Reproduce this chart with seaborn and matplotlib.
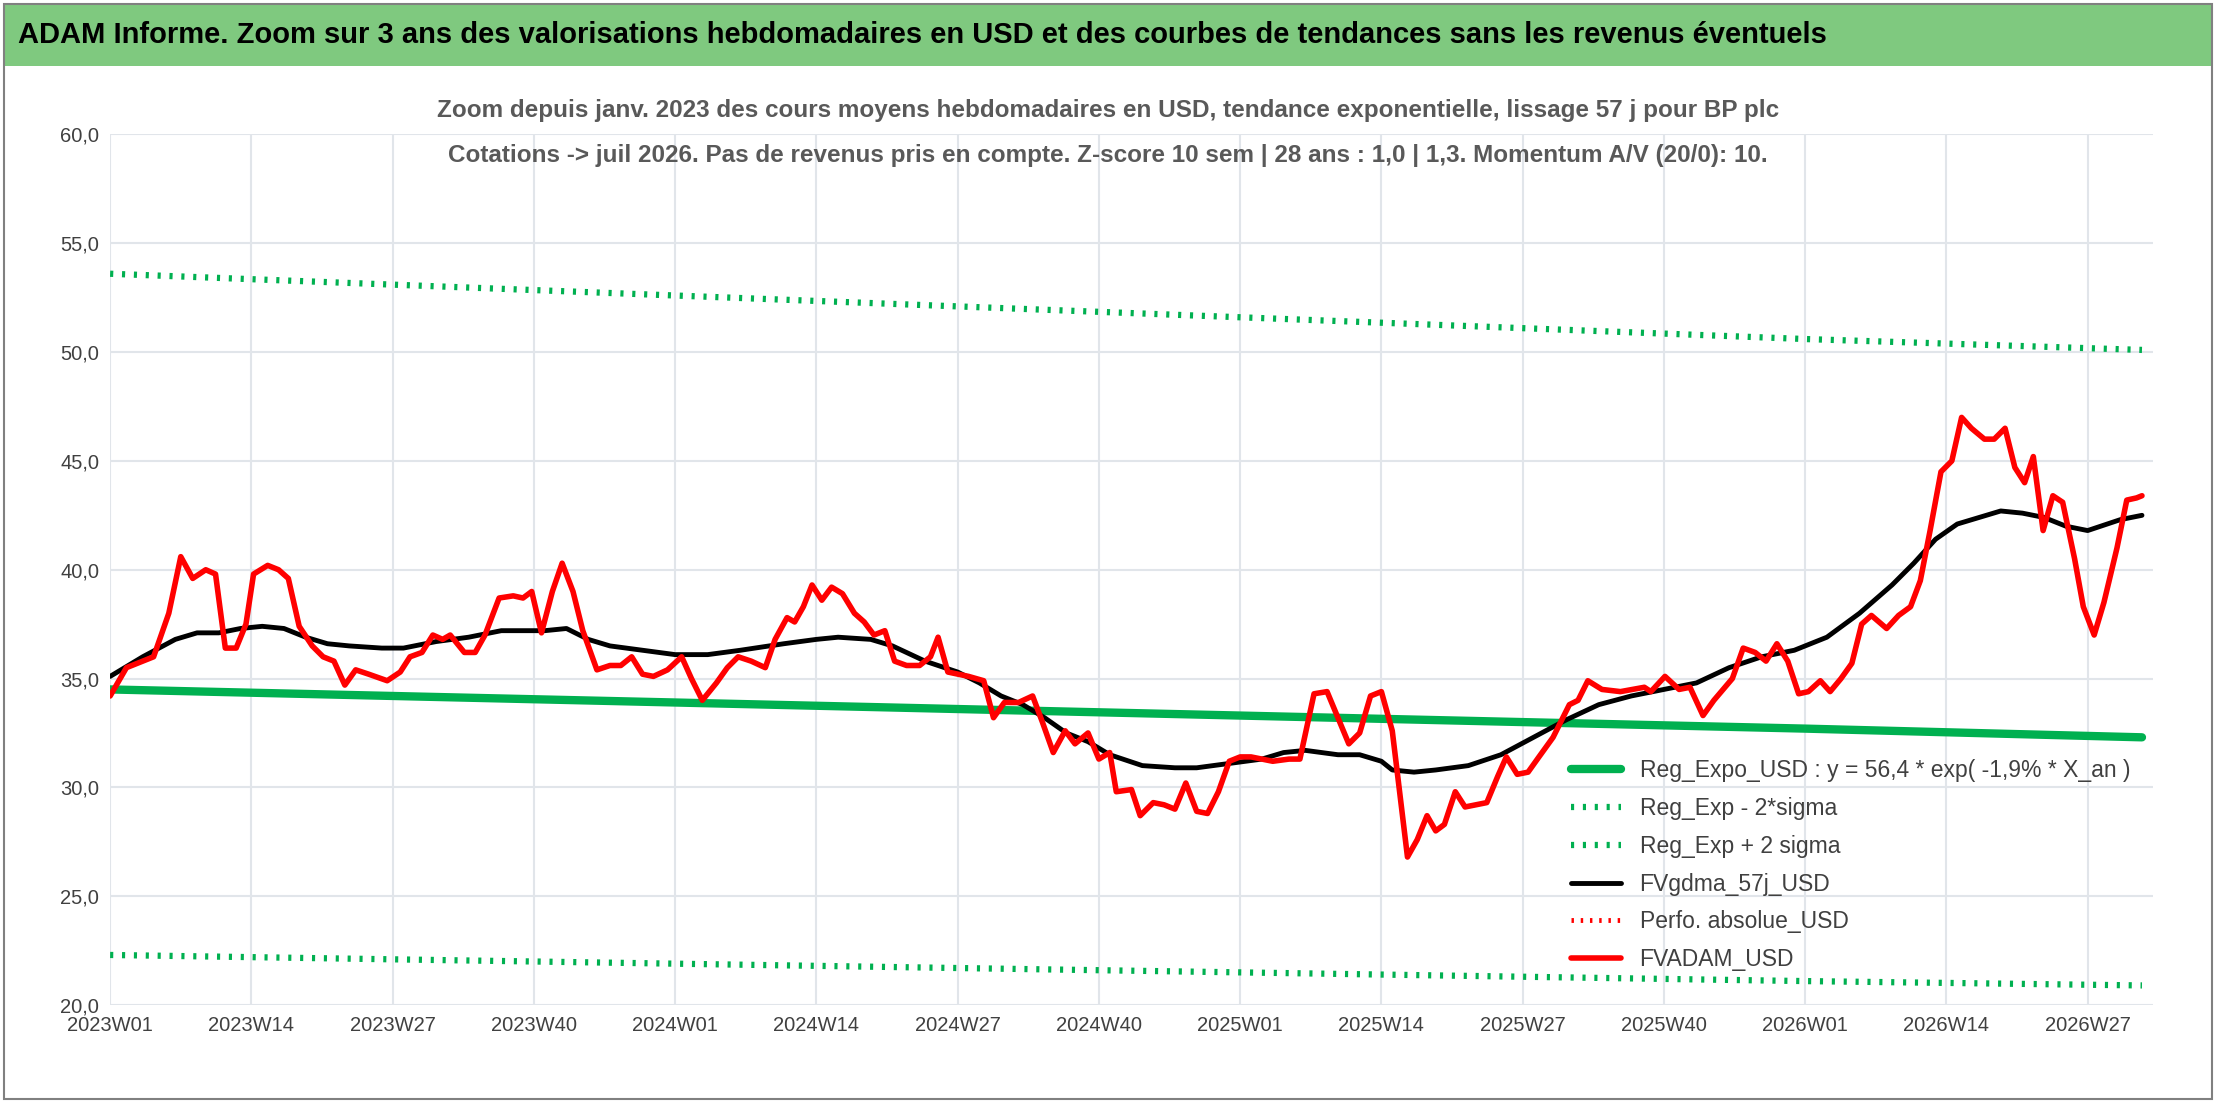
import matplotlib
matplotlib.use("Agg")
import matplotlib.pyplot as plt
import seaborn as sns

# weeks since 2023W01
red_x = [0, 1.5, 3, 4, 5.4, 6.5, 7.6, 8.8, 9.7, 10.6, 11.6, 12.5, 13.2, 14.5, 15.5, 16.4, 17.4,
         18.6, 19.6, 20.6, 21.6, 22.6, 23.8, 25.5, 26.7, 27.6, 28.7, 29.7, 30.6, 31.3, 32.6, 33.6,
         34.5, 35.8, 37.1, 38, 38.8, 39.7, 40.7, 41.6, 42.6, 43.5, 44.8, 46, 47, 48, 49, 50, 51.3,
         52.6, 53.5, 54.5, 55.8, 56.8, 57.8, 59, 60.3, 61.2, 62.3, 63, 63.8, 64.6, 65.5, 66.4, 67.4,
         68.5, 69.4, 70.3, 71.3, 72.2, 73.3, 74.5, 75.5, 76.2, 77.1, 79, 80.4, 81.3, 82.3, 83.6,
         84.9, 85.8, 86.8, 87.9, 88.8, 90, 91, 92, 92.6, 94, 94.8, 96, 97, 98, 99, 100, 101, 102,
         103, 104, 105, 106, 107, 108.5, 109.5, 110.8, 112, 113, 114, 115, 116, 117, 118, 119.4, 120.3,
         121.2, 122, 122.8, 123.8, 124.7, 125.7, 126.7, 127.7, 128.5, 129.5, 130.5, 131.5, 132.8,
         134.3, 135.1, 136, 137.3, 139, 141.2, 141.8, 143.1, 144.4, 145.4, 146.6, 147.6, 149.3,
         150.3, 151.4, 152.4, 153.4, 154.4, 155.4, 156.3, 157.4, 158.3, 159.3, 160.3, 161.2, 162.1,
         163.5, 164.6, 165.7, 166.6, 167.5, 168.5, 169.5, 170.4, 171.3, 172.5, 173.4, 174.4, 175.3,
         176.2, 177, 177.9, 178.8, 179.7, 180.8, 181.6, 182.6, 183.5, 184.7, 185.6, 186.5, 187]
red_y = [34.2, 35.5, 35.8, 36.0, 38.0, 40.6, 39.6, 40.0, 39.8, 36.4, 36.4, 37.5, 39.8, 40.2, 40.0,
         39.6, 37.4, 36.5, 36.0, 35.8, 34.7, 35.4, 35.2, 34.9, 35.3, 36.0, 36.2, 37.0, 36.8, 37.0,
         36.2, 36.2, 37.0, 38.7, 38.8, 38.7, 39.0, 37.1, 39.0, 40.3, 39.0, 37.2, 35.4, 35.6, 35.6,
         36.0, 35.2, 35.1, 35.4, 36.0, 35.0, 34.0, 34.8, 35.5, 36.0, 35.8, 35.5, 36.8, 37.8, 37.6,
         38.3, 39.3, 38.6, 39.2, 38.9, 38.0, 37.6, 37.0, 37.2, 35.8, 35.6, 35.6, 36.0, 36.9, 35.3,
         35.1, 34.9, 33.2, 33.9, 33.9, 34.2, 33.0, 31.6, 32.6, 32.0, 32.5, 31.3, 31.6, 29.8, 29.9,
         28.7, 29.3, 29.2, 29.0, 30.2, 28.9, 28.8, 29.8, 31.2, 31.4, 31.4, 31.3, 31.2, 31.3, 31.3,
         34.3, 34.4, 33.2, 32.0, 32.5, 34.2, 34.4, 32.6, 26.8, 27.6, 28.7, 28.0, 28.3, 29.8, 29.1,
         29.2, 29.3, 30.5, 31.4, 30.6, 30.7, 31.4, 32.3, 33.8, 34.0, 34.9, 34.5, 34.4, 34.6, 34.4,
         35.1, 34.5, 34.6, 33.3, 34.0, 35.0, 36.4, 36.2, 35.8, 36.6, 35.8, 34.3, 34.4, 34.9, 34.4,
         35.0, 35.7, 37.5, 37.9, 37.3, 37.9, 38.3, 39.5, 41.8, 44.5, 45.0, 47.0, 46.5, 46.0, 46.0,
         46.5, 44.7, 44.0, 45.2, 41.8, 43.4, 43.1, 40.5, 38.3, 37.0, 38.5, 41.0, 43.2, 43.3, 43.4]

black_x = [0, 3, 6, 8, 10, 12, 14, 16, 18, 20, 22, 25, 27, 30, 33, 36, 40, 42, 44, 46, 49, 52, 55,
           58, 62, 65, 67, 70, 72, 75, 78, 80, 82, 84, 86, 88, 90, 92, 95, 98, 100, 103, 106, 108,
           110, 113, 115, 117, 118, 120, 122, 125, 128, 131, 134, 137, 140, 143, 146, 149, 152,
           155, 158, 161, 164, 166, 168, 170, 172, 174, 176, 178, 180, 182, 185, 187]
black_y = [35.1, 36.0, 36.8, 37.1, 37.1, 37.3, 37.4, 37.3, 36.9, 36.6, 36.5, 36.4, 36.4, 36.7,
           36.9, 37.2, 37.2, 37.3, 36.8, 36.5, 36.3, 36.1, 36.1, 36.3, 36.6, 36.8, 36.9, 36.8,
           36.5, 35.8, 35.3, 34.8, 34.2, 33.8, 33.2, 32.5, 32.1, 31.5, 31.0, 30.9, 30.9, 31.1,
           31.3, 31.6, 31.7, 31.5, 31.5, 31.2, 30.8, 30.7, 30.8, 31.0, 31.5, 32.3, 33.1, 33.8,
           34.2, 34.5, 34.8, 35.5, 36.0, 36.3, 36.9, 38.0, 39.3, 40.3, 41.4, 42.1, 42.4, 42.7,
           42.6, 42.4, 42.0, 41.8, 42.3, 42.5]

trend_x = [0, 26, 52, 78, 104, 130, 156, 187]
trend_y = [34.5, 34.2, 33.9, 33.6, 33.3, 33.0, 32.7, 32.3]
low_y = [22.3, 22.1, 21.9, 21.7, 21.5, 21.3, 21.1, 20.9]
high_y = [53.6, 53.1, 52.6, 52.1, 51.6, 51.1, 50.6, 50.1]

tick_pos = list(range(0, 183, 13))
tick_labels = ["2023W01", "2023W14", "2023W27", "2023W40", "2024W01", "2024W14", "2024W27",
               "2024W40", "2025W01", "2025W14", "2025W27", "2025W40", "2026W01", "2026W14",
               "2026W27"]

sns.set_theme(style="whitegrid")
plt.rcParams['font.family'] = ['Liberation Sans', 'DejaVu Sans']

fig = plt.figure(figsize=(22.16, 11.02), dpi=100)
fig.patch.set_facecolor("white")
fig.patches.append(plt.Rectangle((0.002, 0.94), 0.996, 0.056, transform=fig.transFigure,
                                 facecolor="#7FC97F", edgecolor="none"))
fig.patches.append(plt.Rectangle((0.002, 0.003), 0.996, 0.993, transform=fig.transFigure,
                                 facecolor="none", edgecolor="#808080", lw=1.5))
fig.text(0.008, 0.968, "ADAM Informe. Zoom sur 3 ans des valorisations hebdomadaires en USD et des "
         "courbes de tendances sans les revenus éventuels", fontsize=21, fontweight="bold",
         va="center", ha="left", color="black")
fig.text(0.5, 0.90, "Zoom depuis janv. 2023 des cours moyens hebdomadaires en USD, tendance "
         "exponentielle, lissage 57 j pour BP plc", fontsize=17.5, fontweight="bold",
         color="#595959", ha="center", va="center")
fig.text(0.5, 0.859, "Cotations -> juil 2026. Pas de revenus pris en compte. Z-score 10 sem | "
         "28 ans : 1,0 | 1,3. Momentum A/V (20/0): 10.", fontsize=17.5, fontweight="bold",
         color="#595959", ha="center", va="center")

ax = fig.add_axes([0.0497, 0.088, 0.9218, 0.79])
ax.set_facecolor("none")
dots = (0, (0.5, 1.4))
sns.lineplot(x=trend_x, y=trend_y, ax=ax, color="#00B050", lw=6,
             label="Reg_Expo_USD : y = 56,4 * exp( -1,9% * X_an )")
sns.lineplot(x=trend_x, y=low_y, ax=ax, color="#00B050", lw=4.5, linestyle=dots,
             label="Reg_Exp - 2*sigma")
sns.lineplot(x=trend_x, y=high_y, ax=ax, color="#00B050", lw=4.5, linestyle=dots,
             label="Reg_Exp + 2 sigma")
sns.lineplot(x=black_x, y=black_y, ax=ax, color="black", lw=3.5, label="FVgdma_57j_USD")
ax.plot([], [], color="red", lw=3.5, linestyle=dots, label="Perfo. absolue_USD")
sns.lineplot(x=red_x, y=red_y, ax=ax, color="#FF0000", lw=4, label="FVADAM_USD")

ax.set_xlim(0, 188)
ax.set_ylim(20, 60)
ax.set_xticks(tick_pos)
ax.set_xticklabels(tick_labels)
ax.set_yticks(range(20, 61, 5))
ax.set_yticklabels([f"{v},0" for v in range(20, 61, 5)])
ax.tick_params(labelsize=14.5, colors="#404040", length=0, pad=8)
ax.grid(color="#E1E5EA", lw=1.5)
for s in ax.spines.values():
    s.set_visible(False)
ax.set_xlabel("")
ax.set_ylabel("")
leg = ax.legend(loc="lower left", bbox_to_anchor=(0.705, 0.015), frameon=False, fontsize=16.5,
                handlelength=2.2, labelspacing=0.65, labelcolor="#404040")

fig.savefig("out.png", dpi=100)
